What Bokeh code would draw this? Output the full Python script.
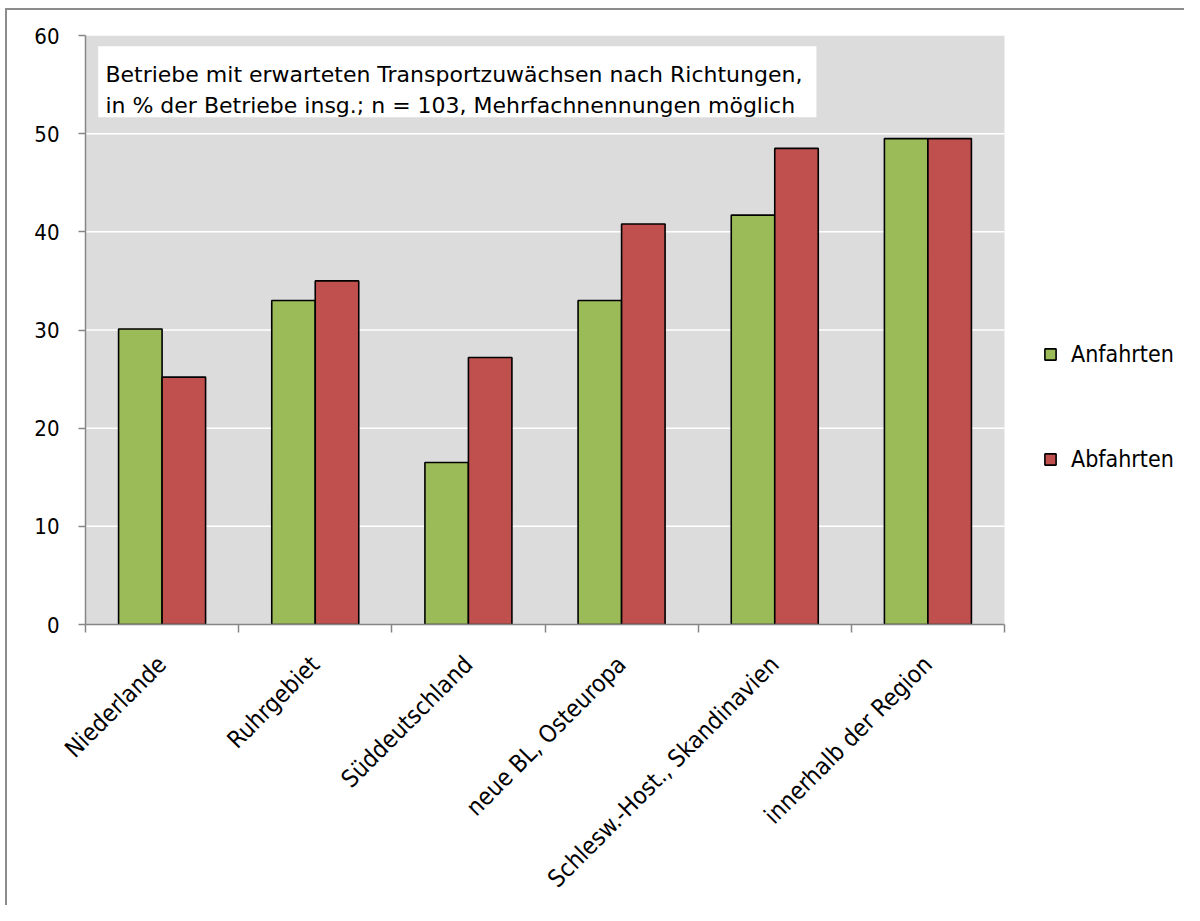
import math
from bokeh.plotting import figure
from bokeh.models import (Range1d, FixedTicker, Legend, LegendItem,
                          BoxAnnotation, Label, ColumnDataSource)
from bokeh.transform import dodge
from bokeh.embed import file_html
from bokeh.resources import INLINE

# ---- data ----
categories = ["Niederlande", "Ruhrgebiet", "Süddeutschland", "neue BL, Osteuropa",
              "Schlesw.-Host., Skandinavien", "innerhalb der Region"]
anfahrten = [30.1, 33.0, 16.5, 33.0, 41.7, 49.5]
abfahrten = [25.2, 35.0, 27.2, 40.8, 48.5, 49.5]
series_names = ["Anfahrten", "Abfahrten"]
y_ticks = [0, 10, 20, 30, 40, 50, 60]
note_lines = ["Betriebe mit erwarteten Transportzuwächsen nach Richtungen,",
              "in % der Betriebe insg.; n = 103, Mehrfachnennungen möglich"]

FONT = "DejaVu Sans Condensed"
NOTE_FONT = "DejaVu Sans"
GREEN = "#9bbb59"
RED = "#c0504d"
AXIS = "#868686"
PLOT_BG = "#dcdcdc"

W, H = 1184, 905
LEFT, TOP, PLOT_RIGHT, BOTTOM = 85, 35, 1004, 624

n = len(categories)
centers = [i + 0.5 for i in range(n)]
bounds = list(range(n + 1))
x_end = n * (W - LEFT) / (PLOT_RIGHT - LEFT)   # frame spans to the right edge (room for legend)
ymax = y_ticks[-1]

src = ColumnDataSource(dict(x=centers, a=anfahrten, b=abfahrten))

p = figure(width=W, height=H, x_range=Range1d(0, x_end), y_range=Range1d(0, ymax),
           output_backend="svg", toolbar_location=None, x_axis_location="below",
           min_border_left=LEFT, min_border_top=TOP, min_border_right=0,
           min_border_bottom=H - BOTTOM)
p.styles = {"background": "linear-gradient(#8c8c8c,#8c8c8c) 5px 8px / 2px calc(100% - 8px) no-repeat, "
                          "linear-gradient(#8c8c8c,#8c8c8c) 5px 8px / calc(100% - 5px) 2px no-repeat, #ffffff"}
p.outline_line_color = None
p.background_fill_color = None
p.border_fill_color = None
p.xgrid.visible = False
p.ygrid.visible = False

# plot-area background and white grid lines
p.quad(left=[0], right=[n], bottom=[0], top=[ymax], fill_color=PLOT_BG, line_color=None)
grid_y = [t for t in y_ticks if 0 < t < ymax]
p.segment(x0=[0] * len(grid_y), x1=[n] * len(grid_y), y0=grid_y, y1=grid_y,
          line_color="white", line_width=1.5)

bw = 0.284
r1 = p.vbar(x=dodge("x", -bw / 2, range=p.x_range), top="a", width=bw, source=src,
            fill_color=GREEN, line_color="black", line_width=1.6)
r2 = p.vbar(x=dodge("x", bw / 2, range=p.x_range), top="b", width=bw, source=src,
            fill_color=RED, line_color="black", line_width=1.6)

# y axis
ya = p.yaxis[0]
ya.ticker = FixedTicker(ticks=y_ticks)
ya.axis_line_color = AXIS
ya.axis_line_width = 1.5
ya.major_tick_line_color = AXIS
ya.major_tick_line_width = 1.5
ya.major_tick_out = 7
ya.major_tick_in = 0
ya.minor_tick_line_color = None
ya.major_label_text_font = FONT
ya.major_label_text_font_size = "22px"
ya.major_label_text_color = "black"
ya.major_label_standoff = 19

# x axis: labels at category centres, tick marks at category boundaries
xa = p.xaxis[0]
xa.bounds = (0, n)
xa.ticker = FixedTicker(ticks=centers, minor_ticks=bounds)
xa.major_label_overrides = {c: lab for c, lab in zip(centers, categories)}
xa.axis_line_color = AXIS
xa.axis_line_width = 1.5
xa.major_tick_line_color = None
xa.major_tick_out = 0
xa.major_tick_in = 0
xa.minor_tick_line_color = AXIS
xa.minor_tick_line_width = 1.5
xa.minor_tick_out = 8
xa.minor_tick_in = 0
xa.major_label_orientation = math.pi / 4
xa.major_label_text_font = FONT
xa.major_label_text_font_size = "24px"
xa.major_label_text_color = "black"
xa.major_label_standoff = 28

# note box
box = BoxAnnotation(left=0.083, right=4.772, top=58.9, bottom=51.68,
                    fill_color="white", fill_alpha=1.0, line_color=None)
p.add_layout(box)
for line, yy in zip(note_lines, [56.0, 52.87]):
    p.add_layout(Label(x=0.13, y=yy, text=line, text_font=NOTE_FONT,
                       text_font_size="22px", text_color="black",
                       text_baseline="alphabetic"))

# legend (right of the plot area)
lg = Legend(items=[LegendItem(label=nm, renderers=[r]) for nm, r in zip(series_names, [r1, r2])],
            location=(958, 152), orientation="vertical",
            glyph_width=14, glyph_height=14, padding=0, margin=0, spacing=79,
            border_line_color=None, background_fill_alpha=0,
            label_text_font=FONT, label_text_font_size="23px", label_text_color="black",
            label_standoff=14)
p.add_layout(lg, "center")

open("out.html", "w").write(file_html(p, INLINE))
